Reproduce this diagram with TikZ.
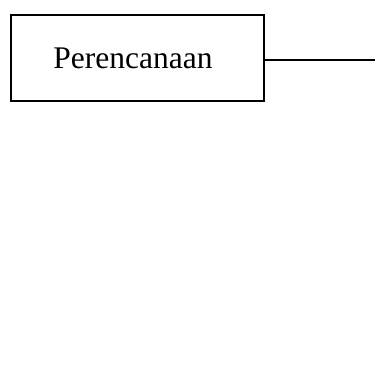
\documentclass[tikz,border=0pt]{standalone}
\usepackage{fontspec}
\setmainfont{Liberation Serif}
\begin{document}
\begin{tikzpicture}[x=1pt,y=-1pt,
  box/.style={draw,line width=1.4pt,minimum width=253pt,minimum height=86pt,inner sep=0pt,font=\fontsize{31.5}{38}\selectfont},
  link/.style={line width=1.4pt}]
\useasboundingbox (0,0) rectangle (375,385);
\node[box] (plan) at (137.5,58) {\hspace*{-9pt}Perencanaan};
\coordinate (end) at (375,60);
\draw[link] (plan.east |- end) -- (end);
\end{tikzpicture}
\end{document}
